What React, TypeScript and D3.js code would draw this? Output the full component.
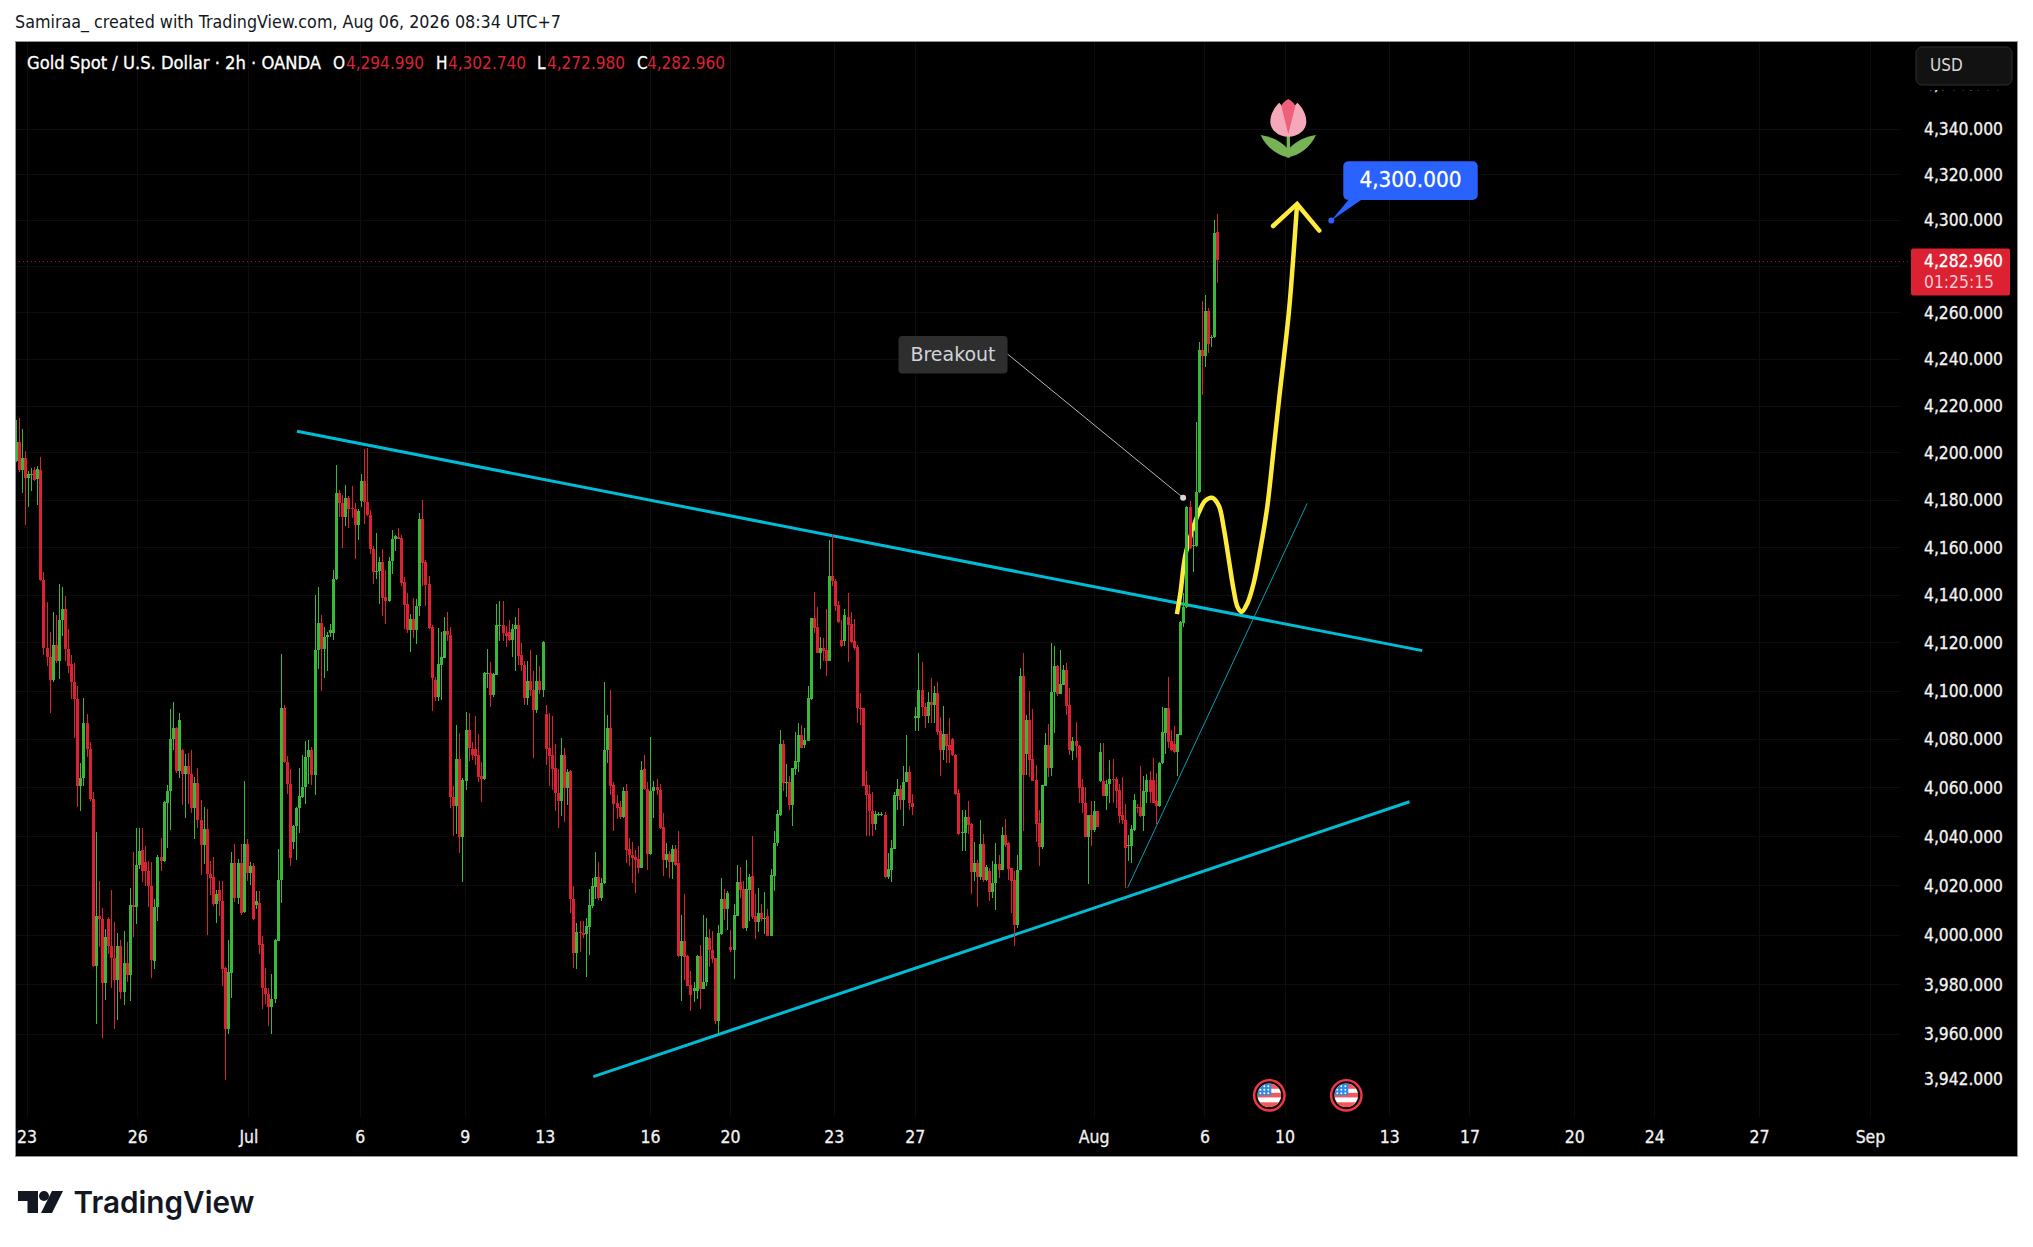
import React from "react";
import * as d3 from "d3";

type C = [number, number, number, number];
// open, high, low, close
const juneLate: C[] = [
[4196.6,4214,4196,4204.5],[4204.5,4215,4192,4192.6],[4192.6,4210,4183,4197.9],[4197.9,4200.7,4169.5,4189.3],[4189.3,4192.2,4177,4191],[4190.6,4193.7,4183.7,4191],[4192.6,4194,4188.3,4188.7],[4188.9,4194.6,4178,4193.1],[4192.8,4198.3,4146,4146.5],[4146.5,4149.8,4114.8,4117.7],
[4117.7,4137.3,4110.3,4114],[4114,4124.7,4090.8,4104.7],[4104.7,4133,4103.6,4119.2],[4119.2,4131.7,4111.6,4112.5],[4112.5,4144.8,4105,4129.6],[4129.6,4143.4,4122.8,4134],[4134,4139.6,4112.5,4117.3],[4117.3,4126,4107.3,4110.3],[4111.4,4114.9,4096.7,4103.6],[4103.8,4111.6,4080.6,4096.9],
[4096.9,4102,4052,4060.6],[4060.6,4070.3,4050.4,4063.9],[4063.9,4097.1,4060.8,4086.8],[4086.8,4090.6,4072.7,4076],[4076,4078.8,4054.8,4055.3],[4055.3,4058.4,3987,3987.3],[3987.3,4042,3964.2,4007.5],[4007.5,4022,3995,4006.4],[4006.4,4011,3958.7,3980.8],[3980.8,4002.3,3973.6,3999.2],
[4006.4,4007.3,3992.5,3995.7],[3995.7,4018.3,3978.5,3990.9],[3990.9,4005.1,3962.3,3982],[3982,4000.8,3965.8,3995.4],[3995.4,3997.9,3974,3976.8],[3976.8,4001.7,3971.6,3988.7],[3988.7,3997.2,3981.2,3983.9],[3983.9,4019.2,3973.2,4012.3],[4012.3,4033.9,3999,4011.2],[4011.2,4043.4,4004.6,4028.4],
[4028.4,4043.4,4027,4034.3],[4034.6,4043.4,4021.5,4026],[4029.7,4036.1,4019.7,4026],[4026,4030,4011.2,4019.7],[4019.9,4029.7,3982.6,3990],[3989.6,4014.8,3986.4,4011.3],[4011.2,4032.5,4005.5,4031.8],[4031.8,4039.6,4025.8,4030],[4030,4054.8,4029.5,4054.4],[4054,4061.2,4035.4,4058.6],
];
const julyEarly: C[] = [
[4058.6,4092.7,4042.8,4080.3],[4080.1,4095.6,4075.5,4084.7],[4084.7,4084.9,4066.3,4066.8],[4066.8,4091,4064,4088],[4075.8,4076,4053.1,4065.9],[4065.9,4074,4047.8,4069],[4069,4074.2,4053.5,4065.7],[4065.7,4075.5,4049.5,4051.7],[4051.6,4064.4,4039.2,4062],[4062,4068.1,4043.4,4046.7],
[4046.9,4054.9,4024.2,4036.5],[4036.5,4052.2,4028.8,4043.3],[4043.3,4051.3,4000.2,4024.9],[4024.9,4030,4016.4,4023.1],[4023.7,4031.8,4011.6,4012.6],[4012.6,4018.3,4005,4016.8],[4018.3,4022,4007.9,4013.9],[4013.9,4022,3979.5,3986.4],[3986.7,3987,3941.9,3962.3],[3962.3,3997.9,3960,3985.1],
[3984.7,4033.9,3974.6,4029.3],[4029.3,4037,4013.4,4015.2],[4015.2,4031,4012.5,4029.3],[4029.3,4037,4008.2,4008.8],[4009.3,4063,4009.1,4037],[4037,4039.2,4022,4025.1],[4025.1,4029.7,4020.1,4028],[4028,4029.3,4006,4006.4],[4012.3,4017.9,4010.7,4013.9],[4013,4017.9,3992.5,3996],
[3996.2,3999.4,3970,3978.8],[3978.8,3986.7,3972.2,3976],[3976,3978.7,3963.2,3971],[3971,3984.2,3960,3974],[3974,3998.2,3972.7,3998],[3997.7,4035,3997.5,4022.2],[4022.2,4115.3,4012.8,4093],[4093,4094.2,4070.3,4070.5],[4070.5,4073.3,4057.7,4061.5],[4061.5,4067.7,4027.9,4031.2],
[4037.9,4044.7,4034.8,4044.5],[4044.3,4052.2,4030.6,4051.8],[4051.8,4068.1,4041.6,4056.6],[4056.2,4073.6,4055.7,4060.2],[4060.2,4079.2,4053.5,4072.7],[4072.7,4079.6,4061.7,4075.5],[4075.5,4076.8,4061.3,4065.5],[4065.5,4140.1,4057.2,4116.9],[4116.9,4143.6,4109.3,4128.4],[4128.4,4131.7,4100.1,4117.5],
];
const julyWeek2: C[] = [
[4117.5,4126.8,4105.6,4122.4],[4122.4,4124.7,4108.2,4123.5],[4124,4127.8,4122.4,4125.4],[4124,4150.5,4121.3,4146.6],[4146.6,4194.8,4146.4,4183.2],[4183.2,4184.3,4172.9,4178.6],[4178.6,4182,4159.8,4172.7],[4172.7,4186.6,4169.2,4180.9],[4180.9,4181.8,4168.3,4176.4],[4176.8,4186,4172.3,4176.2],
[4176.4,4178.6,4155.3,4169.4],[4169.4,4176.4,4163,4175.3],[4179.7,4191,4177,4188.2],[4188.2,4201.7,4170,4179.4],[4179.4,4202.1,4173.3,4173.5],[4173.5,4176,4157.3,4159.2],[4159.2,4160.7,4144.6,4149.8],[4149.8,4166.2,4146.6,4150.2],[4150,4155.9,4136.4,4154],[4154,4159.2,4131.4,4138.8],
[4139.4,4150.7,4128,4137.7],[4137.7,4155.9,4137.3,4154.4],[4154.4,4167.2,4148.9,4163.7],[4163.4,4165.2,4158.6,4164.7],[4164.3,4168.1,4163.5,4163.7],[4164,4165.3,4143.7,4145.1],[4145.5,4147.6,4125.7,4135.8],[4136.3,4140.7,4124.3,4125.6],[4125.6,4132.3,4116.2,4130],[4130,4138.8,4121.9,4125.6],
[4125.6,4138.4,4119.6,4135.4],[4135.3,4174.4,4131.4,4172],[4172,4180.1,4143.7,4153.4],[4154,4154.8,4135.4,4144.4],[4144.6,4148,4125.7,4126.4],[4126.8,4127.3,4091.9,4105.3],[4104.6,4105.9,4095.8,4097.6],[4097.6,4126.3,4095.8,4111.1],[4111,4124.7,4096.3,4114.1],[4113.8,4130.8,4113.6,4125],
[4125,4133.1,4120.8,4123.3],[4123.3,4126.8,4051.9,4056.4],[4056.4,4060.7,4040.4,4052.4],[4052.4,4085.8,4041,4071.9],[4071.9,4082.7,4033.4,4039.9],[4039.9,4064,4021.6,4063.3],[4063,4091.2,4059.3,4083.9],[4083.9,4090.9,4071,4076.5],[4076,4079,4071.4,4073.5],[4076,4089.7,4069.3,4073.3],
];
const julyWeek3: C[] = [
[4073.5,4082.2,4062.4,4064.5],[4065,4070.7,4054.1,4063.6],[4063.6,4108,4063.3,4107.6],[4107.4,4117.3,4101.1,4107.6],[4107.6,4112,4093.3,4098.3],[4098.3,4107.6,4097.5,4106.9],[4106.6,4136.3,4106.5,4127.5],[4127.3,4137.6,4120.8,4127.7],[4127.3,4137.6,4120.8,4124],[4124.3,4127,4118.2,4123.1],
[4124.7,4129.6,4120.8,4121.4],[4121.4,4127.8,4114.1,4126],[4125.9,4130.8,4108.5,4127.5],[4127.5,4134.5,4110.8,4114.6],[4115,4120,4108.5,4110.8],[4110.9,4112.5,4094.2,4097.1],[4097.1,4112.4,4094.2,4104.1],[4104.1,4117,4098,4100.3],[4100.4,4108.5,4072.5,4092.1],[4092.1,4115,4091,4104.1],
[4104.1,4110.2,4098.9,4100.4],[4100.4,4120.8,4097.5,4120.4],[4090.6,4094.2,4069.3,4076],[4076.3,4090.7,4060.7,4073.3],[4073.7,4089.7,4059,4067.8],[4068.1,4078,4050.4,4058.1],[4058.1,4067.6,4043.7,4054.7],[4054.7,4080.7,4048.4,4073.7],[4073.7,4076.3,4046,4060],[4060,4067.6,4053,4066.7],
[4067,4067.2,4009.1,4014.8],[4014.8,4019.9,3986.5,3992.8],[3992.8,4004.9,3986.3,4001.1],[4001.1,4005.7,3993,4000.8],[4001,4005.7,3998.9,4000],[4000.4,4006.9,3983.2,4003.5],[4003.1,4018.7,3991.8,4012.2],[4011.7,4023.2,4010.8,4019.7],[4019.4,4033.8,4014.8,4023.5],[4023.5,4029.6,4014.3,4015],
[4015,4023.3,4013.6,4021.3],[4021.1,4103.8,4020.7,4075.6],[4075.4,4090.2,4070.3,4084.6],[4084.6,4100.5,4057.2,4060.7],[4061.2,4062.4,4042.5,4053.4],[4053.8,4056.9,4047.2,4051.6],[4052.1,4054.7,4047.2,4047.9],[4047.9,4060.4,4047.7,4058.8],[4058.8,4061.4,4029.1,4034.6],[4034.8,4039.6,4027.9,4032.6],
];
const julyWeek4: C[] = [
[4032.7,4037.7,4021.1,4031.2],[4031.7,4034.4,4017,4030.5],[4030.8,4036,4025.2,4027.4],[4027.4,4071,4027.2,4067.2],[4067.8,4073.5,4059,4059.6],[4059.6,4062.4,4026.4,4032.9],[4032.9,4081,4032.7,4058.8],[4058.7,4062.7,4047.7,4060.4],[4060.4,4063.8,4056.9,4059],[4059,4061.5,4043,4043.4],
[4043.9,4049.9,4024,4030.5],[4030.5,4037.3,4027.2,4032.9],[4032.9,4034,4023,4029.8],[4029.8,4036.5,4022.8,4034.9],[4034.9,4036.8,4027.9,4028.6],[4029.3,4042.5,3991.3,3991.6],[3991.6,4008.1,3973.4,3997.5],[3997.5,4016.5,3981.9,3991.3],[3991.6,3991.8,3979.3,3979.5],[3979.9,3985.3,3969.2,3975.8],
[3977.3,3981,3973,3978.5],[3977.3,3991.8,3974.3,3991.6],[3991.6,3996,3970.3,3978.2],[3978.2,4008.3,3978,3981.2],[3981,4006.9,3979.3,3999.2],[3998.7,4002.3,3987,3993.8],[3993.8,4001.6,3988.7,3990.1],[3990.7,3990.9,3964,3965.3],[3965.3,4004,3959.6,4000.8],[4000.4,4023.3,4000.2,4014.4],
[4014.4,4018.5,4006,4010.7],[4010.7,4017.7,4002,4017],[3995.2,4002,3993.2,3994],[3994,4012.5,3982.2,4008.1],[4007.8,4028.4,4007.6,4021.4],[4021.4,4027.6,4015.1,4018.2],[4018.5,4022,4002.3,4002.8],[4002.8,4030.5,4001.8,4018.5],[4018.4,4024.9,4005.7,4023.5],[4024,4040.3,4006.6,4007.4],
[4007.8,4016.8,3998.2,4005.4],[4005.4,4019,4001.4,4009.1],[4009.1,4012.5,4005.7,4006.6],[4006.7,4017.5,4000.6,4006.9],[4007.8,4010.5,3999.6,3999.7],[3999.7,4026.7,3999.6,4024.3],[4024,4042.5,4018,4037.5],[4037.3,4051.1,4036.2,4049.2],[4049,4083.7,4048.5,4078],[4078,4079.8,4058.6,4062.1],
];
const julyWeek5: C[] = [
[4062.1,4069.8,4056.4,4062.4],[4062.4,4065,4051.1,4053],[4053,4068.3,4044.2,4068.1],[4067.9,4082.9,4065.5,4071],[4070.7,4086.7,4066.7,4081.9],[4081.6,4085.8,4076.3,4076.6],[4077.6,4084.5,4076.3,4079.8],[4079.5,4101.9,4079.3,4097],[4096.7,4130.6,4096.4,4130.4],[4130.4,4141.2,4124.3,4126.3],
[4126.6,4135,4115.7,4116],[4116,4122.5,4109,4117.8],[4117.8,4121.9,4112.6,4116.7],[4117,4134.2,4106.4,4112.6],[4112.6,4163.2,4112.4,4147.9],[4147.9,4165.5,4144,4146],[4146,4146.9,4133.2,4135.4],[4135.7,4137.6,4128.2,4128.8],[4121.3,4129.6,4118.5,4118.9],[4121,4134.2,4118.7,4131.5],
[4131,4140.9,4112.1,4127.5],[4127.8,4132.9,4120,4120.6],[4120.7,4129.9,4117.2,4117.8],[4118.2,4119.3,4086.6,4092.8],[4092.8,4099.2,4085.9,4092.6],[4092.8,4093,4060.7,4060.8],[4061.1,4066.8,4040.3,4057.2],[4057.6,4061,4040.3,4050.5],[4050.7,4058.2,4040.3,4045.2],[4045.2,4050.7,4042.7,4049.2],
[4048.8,4050,4048.5,4049.3],[4049,4050,4048.6,4049.3],[4049,4050,4023,4023.4],[4023.4,4033.3,4022.7,4026.8],[4026.4,4038.5,4021.6,4035.2],[4035,4058.2,4034.9,4057],[4056.8,4063.6,4051.1,4059.4],[4059.4,4061.3,4051.1,4055.1],[4055.1,4069.2,4044.4,4062.6],[4062.5,4081.6,4062.4,4066.4],
[4066.4,4069.2,4050.9,4054],[4054,4057.4,4048.9,4052.3],[4088.8,4093.3,4083.5,4089.5],[4088.8,4115.7,4083.5,4100.4],[4100.4,4112.1,4089.5,4093.3],[4093.3,4095.2,4084.5,4089.8],[4089.8,4099.5,4086.6,4095.5],[4095.5,4105.6,4086.6,4094.2],[4094.2,4101.9,4086.6,4099.1],[4099.1,4103.8,4081.6,4083],
];
const julyEnd: C[] = [
[4083.3,4089.2,4065,4075.4],[4075.4,4093.6,4071.3,4082.2],[4082.2,4082.4,4070.2,4077.2],[4077.5,4088.8,4070.2,4075.4],[4080,4080.6,4073.3,4073.4],[4073.7,4074,4057.2,4057.5],[4057.8,4059.6,4040.6,4041],[4041.6,4050.9,4034.2,4041.9],[4041.6,4051.1,4034.2,4048],[4048,4054.5,4040.9,4044.8],
[4045.1,4045.5,4016.8,4025.7],[4025.7,4037.8,4022,4029.2],[4029.2,4030.6,4011.5,4023.6],[4023.6,4046.8,4022.3,4037.1],[4037.1,4041,4021.6,4022.3],[4022.3,4028.6,4021.9,4027.8],[4025.8,4027.2,4013.6,4017.6],[4017.6,4030,4015.1,4021.3],[4021.3,4037.4,4010.1,4028.9],[4028.9,4032.4,4023,4026.4],
[4026.4,4044.1,4026.2,4040.6],[4040.6,4047.1,4035.6,4036.8],[4037.4,4037.8,4022.3,4026.9],[4027.2,4027.4,4009.1,4022],[4022.3,4025.8,3995.5,4004.2],[4004.2,4032.4,4002.8,4026.6],[4026.5,4109.5,4026.3,4106.2],[4106.2,4115.7,4042.3,4065.3],[4073.9,4090.2,4065.3,4087.9],[4087.9,4099.9,4064.6,4071.6],
[4071.9,4092.6,4062.9,4063],[4063.2,4069.5,4037.8,4045.2],[4045.5,4050.9,4027.9,4035.8],[4035.8,4061.2,4035,4061],[4060.7,4082.6,4060.6,4077.6],[4077.6,4086.3,4064.6,4068.1],[4068.1,4120,4065,4099.6],[4099.4,4118.7,4082.8,4110.4],[4110.4,4111,4098.1,4098.8],[4098.8,4117.1,4098.7,4102.9],
[4102.6,4110.9,4102.5,4108.8],[4108.8,4111.6,4090.2,4093.8],[4094.1,4101.2,4073.7,4075.4],[4075.2,4080.9,4071.3,4079.5],[4079.5,4087.1,4072.3,4077.1],[4077.3,4077.6,4053.7,4059.9],[4060.3,4063.6,4049.7,4053.7],[4054,4060.3,4039.9,4040],[4039.9,4049,4020.8,4048.8],[4048.8,4054.7,4036.1,4042.7],
];
const august: C[] = [
[4042.7,4054.7,4042,4050.5],[4050.5,4050.7,4043.9,4044.1],[4062.8,4078.3,4062.4,4074.6],[4062.9,4078.7,4056.5,4056.8],[4056.8,4063.3,4050.9,4061.7],[4061.4,4071.3,4054,4063.6],[4063.6,4071.8,4054,4063.2],[4063.6,4064.6,4051.9,4058.8],[4059,4061.4,4045.5,4048.6],[4048.8,4064.6,4045.2,4046.9],
[4046.9,4053.3,4018.9,4035.5],[4036,4040.6,4030,4036.4],[4036,4044.7,4029.3,4043],[4042.7,4057.6,4042.5,4055],[4052.1,4053.3,4049.7,4051.7],[4052.1,4068.9,4048.2,4048.3],[4048.3,4064.9,4042.4,4058.6],[4058.5,4065.9,4054,4063.2],[4063.2,4067,4053.7,4058.2],[4063.2,4072.3,4053.7,4054],
[4054.5,4066,4045.2,4052.6],[4052.6,4070.5,4052.1,4070.3],[4070.2,4093.2,4070,4082.9],[4082.6,4093,4074.1,4092.9],[4092.9,4105.8,4076.6,4079],[4079.5,4083.8,4075.2,4075.8],[4078,4085.5,4074.5,4074.9],[4074.9,4082.4,4064.9,4082.2],[4081.9,4129,4081.7,4128.8],[4128.5,4140.9,4126.7,4135],
[4135,4177.5,4134.8,4177.3],[4177.1,4179.5,4159.4,4159.9],[4160.6,4166.8,4149.8,4160.9],[4160.6,4213.3,4160.4,4183.5],[4183.3,4247.6,4183,4244],[4244,4265,4224.5,4241.5],[4241.5,4267.7,4236.8,4260.8],[4260.8,4262,4242.7,4246.5],[4249.2,4250.5,4245.2,4249.7],[4249.4,4300,4249.2,4294.6],
[4294.99,4302.74,4272.98,4282.96],
];
const candles: C[] = [...juneLate, ...julyEarly, ...julyWeek2, ...julyWeek3, ...julyWeek4, ...julyWeek5, ...julyEnd, ...august];

const priceTicks = [4360,4340,4320,4300,4260,4240,4220,4200,4180,4160,4140,4120,4100,4080,4060,4040,4020,4000,3980,3960,3942];
const gridPrices = [4340,4320,4300,4280,4260,4240,4220,4200,4180,4160,4140,4120,4100,4080,4060,4040,4020,4000,3980,3960];
const timeLabels = ["23","26","Jul","6","9","13","16","20","23","27","Aug","6","10","13","17","20","24","27","Sep"];
const timeBars = [3.7,39.6,75.7,111.8,145.9,171.9,206,232,265.7,292,350,386,412,446,472,506,532,566,602];
const lastPrice = 4282.96;
const legendValues = ["4,294.990","4,302.740","4,272.980","4,282.960"];

// drawings, as [bar, price]
const upperTrend = [[91.3,4209.2],[456.5,4116.8]];
const lowerTrend = [[187.5,3943.1],[452.4,4054.3]];
const thinTrend = [[360.9,4019.2],[419.2,4178.7]];
const projection = [[376.9,4132],[378,4140.7],[379.6,4156.6],[381.8,4166.8],[384,4174.8],[386.1,4179.8],[388.3,4181],[390.5,4177.6],[392.1,4168.2],[393.7,4155.2],[395.3,4142.2],[396.6,4134.9],[397.9,4133],[399.7,4136.4],[401.8,4145],[404,4159.5],[406.2,4177],[408.3,4201.7],[410,4222.3],[413.2,4259.9],[414.6,4282.8],[415.9,4307.2]];
const arrowHead = [[408.1,4297.6],[415.9,4307.2],[423.1,4295.6]];
const breakoutPoint = [378.9,4181];
const targetPoint = [427,4300];

const GREEN = "#38b93a", RED = "#dc2133", CYAN = "#00bcd4", YELLOW = "#ffeb3b";
const FRAME = { l: 15, r: 2018, t: 41, b: 1157 };
const F = "'DejaVu Sans Condensed', 'DejaVu Sans', sans-serif";

const x = d3.scaleLinear().domain([0, 390]).range([15.7, 1217.3]);
const y = d3.scaleLog().domain([4340, 4000]).range([129, 935]);
const pt = (d: number[]) => [x(d[0]), y(d[1])] as [number, number];
const curve = d3.line().curve(d3.curveCatmullRom.alpha(0.5));
const poly = d3.line();

function Flag({ cx }: { cx: number }) {
  const id = `flag${cx}`;
  return (
    <g transform={`translate(${cx},1095.3)`}>
      <circle r={15.2} fill="#111" stroke="#f23645" strokeWidth={2.4} />
      <clipPath id={id}><circle r={11.8} /></clipPath>
      <g clipPath={`url(#${id})`}>
        <rect x={-12} y={-12} width={24} height={24} fill="#fff" />
        <rect x={-12} y={-12} width={24} height={5.5} fill="#f5565a" />
        <rect x={-12} y={-2.5} width={24} height={4.6} fill="#f5565a" />
        <rect x={-12} y={7} width={24} height={5} fill="#f5565a" />
        <rect x={-12} y={-12} width={14} height={12} fill="#2d8ae6" />
        {[-9, -5, -1].map(a => [-9, -5.5, -2].map(b => <circle key={`${a}${b}`} cx={a} cy={b} r={1} fill="#fff" />))}
      </g>
    </g>
  );
}

function Tulip() {
  return (
    <g transform="translate(1150,80) scale(0.33333)">
      <path d="M415,232 C385,226 350,205 332,165 C365,170 395,185 412,205 Z" fill="#77b255" />
      <path d="M415,232 C445,226 480,205 498,165 C465,170 435,185 418,205 Z" fill="#77b255" />
      <rect x={410} y={165} width={10} height={68} fill="#77b255" />
      <path d="M415,170 C385,170 361,150 361,125 C361,100 375,80 388,68 L415,100 L442,68 C455,80 469,100 469,125 C469,150 445,170 415,170 Z" fill="#f4a8ba" />
      <path d="M415,162 L394,78 C397,70 405,62 415,57 C425,62 433,70 436,78 Z" fill="#ef5f7b" />
    </g>
  );
}

export default function App() {
  const bp = pt(breakoutPoint);
  const tp = pt(targetPoint);
  const legendX = [[333, 346], [436, 448], [537, 547], [637, 647]];
  return (
    <svg width={2033} height={1247} viewBox="0 0 2033 1247" style={{ position: "absolute", left: 0, top: 0, background: "#fff", fontFamily: F }}>
      <defs>
        <clipPath id="plot"><rect x={FRAME.l + 1} y={FRAME.t + 1} width={FRAME.r - FRAME.l - 2} height={FRAME.b - FRAME.t - 2} /></clipPath>
      </defs>
      <text x={15} y={28} fontSize={17} fill="#131722" textLength={546} lengthAdjust="spacingAndGlyphs">Samiraa_ created with TradingView.com, Aug 06, 2026 08:34 UTC+7</text>
      <rect x={FRAME.l + 0.5} y={FRAME.t + 0.5} width={FRAME.r - FRAME.l - 1} height={FRAME.b - FRAME.t - 1} fill="#000" stroke="#969696" strokeWidth={1} />

      <g clipPath="url(#plot)">
        <g stroke="#0d0d0d" strokeWidth={1} shapeRendering="crispEdges">
          {gridPrices.map(p => <line key={p} x1={FRAME.l} x2={1900} y1={y(p)} y2={y(p)} />)}
          {timeBars.map((b, i) => <line key={i} x1={x(b)} x2={x(b)} y1={FRAME.t} y2={1117} />)}
        </g>
        <line x1={FRAME.l} x2={1911} y1={y(lastPrice) + 1.5} y2={y(lastPrice) + 1.5} stroke={RED} strokeOpacity={0.75} strokeDasharray="1 3" shapeRendering="crispEdges" />
        <path d={poly(upperTrend.map(pt)) || ""} stroke={CYAN} strokeWidth={3} fill="none" />
        <path d={poly(lowerTrend.map(pt)) || ""} stroke={CYAN} strokeWidth={3} fill="none" />
        <path d={poly(thinTrend.map(pt)) || ""} stroke={CYAN} strokeOpacity={0.85} strokeWidth={1} fill="none" />
        <path d={curve(projection.map(pt)) || ""} stroke={YELLOW} strokeWidth={4.5} fill="none" />
        <path d={poly(arrowHead.map(pt)) || ""} stroke={YELLOW} strokeWidth={4.5} fill="none" strokeLinecap="round" />

        <g shapeRendering="crispEdges">
          {candles.map((c, i) => {
            const [o, h, l, cl] = c;
            const cx = Math.round(x(i));
            const col = cl >= o ? GREEN : RED;
            const top = Math.round(y(Math.max(o, cl)));
            const bot = Math.round(y(Math.min(o, cl)));
            const wt = Math.round(y(h));
            const wb = Math.round(y(l));
            return (
              <g key={i} fill={col}>
                <rect x={cx} y={wt} width={1} height={Math.max(1, wb - wt)} />
                <rect x={cx - 1} y={top} width={3} height={Math.max(1, bot - top)} />
              </g>
            );
          })}
        </g>

        <line x1={1007.5} y1={354} x2={bp[0]} y2={bp[1]} stroke="#b2b5be" strokeWidth={1} />
        <circle cx={bp[0]} cy={bp[1]} r={3} fill="#d6d6d6" />
        <rect x={898.5} y={336} width={109} height={37.5} rx={4} fill="#2e2e2e" />
        <text x={953} y={361} textAnchor="middle" fontSize={19} fill="#d1d4dc" textLength={85} lengthAdjust="spacingAndGlyphs">Breakout</text>

        <path d={`M1350,198 L1364,198 L${tp[0]},${tp[1]} Z`} fill="#2962ff" />
        <circle cx={tp[0]} cy={tp[1]} r={3} fill="#2962ff" />
        <rect x={1343.3} y={161.3} width={134.4} height={38.7} rx={5} fill="#2962ff" />
        <text x={1410.5} y={187} textAnchor="middle" fontSize={21} fontWeight={500} fill="#fff" stroke="#fff" strokeWidth={0.3} textLength={102} lengthAdjust="spacingAndGlyphs">4,300.000</text>

        <Tulip />
        <Flag cx={1269.3} />
        <Flag cx={1346.3} />
      </g>

      <g fontSize={17} fill="#fff" stroke="#fff" strokeWidth={0.3}>
        <text x={27} y={69} textLength={294} lengthAdjust="spacingAndGlyphs">Gold Spot / U.S. Dollar · 2h · OANDA</text>
        {["O", "H", "L", "C"].map((t, i) => (
          <g key={t}>
            <text x={legendX[i][0]} y={69}>{t}</text>
            <text x={legendX[i][1]} y={69} fill={RED} stroke="none" textLength={78} lengthAdjust="spacingAndGlyphs">{legendValues[i]}</text>
          </g>
        ))}
      </g>

      <g fontSize={17} fill="#f2f2f2" stroke="#f2f2f2" strokeWidth={0.3}>
        {priceTicks.map(p => (
          <text key={p} x={1924} y={y(p) + 6} textLength={79} lengthAdjust="spacingAndGlyphs">{d3.format(",.3f")(p)}</text>
        ))}
        {timeLabels.map((t, i) => (
          <text key={i} x={Math.max(x(timeBars[i]), 27)} y={1143} textAnchor="middle" fontSize={17.5}>{t}</text>
        ))}
      </g>

      <rect x={1900} y={FRAME.t + 1} width={FRAME.r - 1901} height={48} fill="#000" />
      <rect x={1916} y={47} width={96} height={38} rx={6} fill="#121212" stroke="#2e2e2e" />
      <text x={1930} y={71} fontSize={17} fill="#d8d8d8">USD</text>

      <rect x={1911} y={248.5} width={99} height={47} rx={2} fill={RED} />
      <text x={1924} y={267} fontSize={17} fill="#fff" stroke="#fff" strokeWidth={0.3} textLength={79} lengthAdjust="spacingAndGlyphs">4,282.960</text>
      <text x={1924} y={288} fontSize={17} fill="#fbc9cf" textLength={70} lengthAdjust="spacingAndGlyphs">01:25:15</text>

      <g fill="#131722">
        <path d="M18,1191 H38 V1213 H27.5 V1201 H18 Z" />
        <circle cx={44} cy={1196} r={5} />
        <path d="M52,1191 H63 L52,1213 H41 Z" />
      </g>
      <text x={73.5} y={1213} fontSize={30} fontWeight={600} fontFamily="Inter, sans-serif" fill="#131722" textLength={181} lengthAdjust="spacingAndGlyphs">TradingView</text>
    </svg>
  );
}
